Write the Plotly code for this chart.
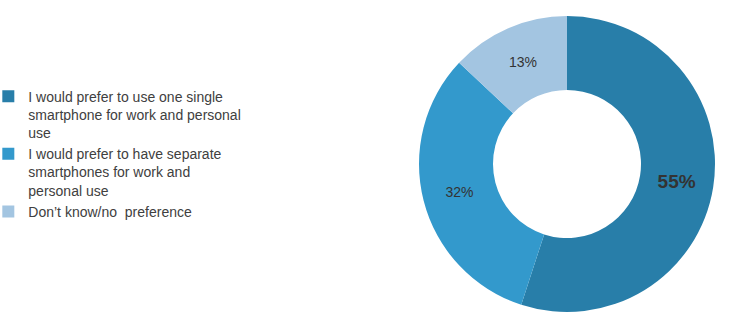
import plotly.graph_objects as go

labels = [
    "I would prefer to use one single<br>smartphone for work and personal<br>use",
    "I would prefer to have separate<br>smartphones for work and<br>personal use",
    "Don\u2019t know/no  preference",
]
values = [55, 32, 13]
colors = ["#287EA9", "#3399CC", "#A3C5E1"]
text_sizes = [19, 14, 14]
text_templates = ["<b>%{percent:.0%}</b>", "%{percent:.0%}", "%{percent:.0%}"]

W, H = 730, 325
cx, cy, r = 567, 164, 148

fig = go.Figure(go.Pie(
    labels=labels,
    values=values,
    hole=0.5,
    sort=False,
    direction="clockwise",
    rotation=0,
    marker=dict(colors=colors, line=dict(color="white", width=0)),
    texttemplate=text_templates,
    textposition="inside",
    insidetextorientation="horizontal",
    textfont=dict(size=text_sizes, color="#333333", family="Liberation Sans, Arial, sans-serif"),
    domain=dict(x=[(cx - r) / W, (cx + r) / W], y=[(H - cy - r) / H, (H - cy + r) / H]),
    hoverinfo="label+percent",
))

fig.update_layout(
    width=W, height=H,
    margin=dict(l=0, r=0, t=0, b=0, autoexpand=False),
    paper_bgcolor="white",
    showlegend=True,
    legend=dict(
        x=-0.016, y=0.752, xanchor="left", yanchor="top",
        font=dict(size=14, color="#404040", family="Liberation Sans, Arial, sans-serif"),
        itemwidth=30, valign="top", tracegroupgap=0,
        bgcolor="rgba(0,0,0,0)",
    ),
)

fig.write_html("out.html")
